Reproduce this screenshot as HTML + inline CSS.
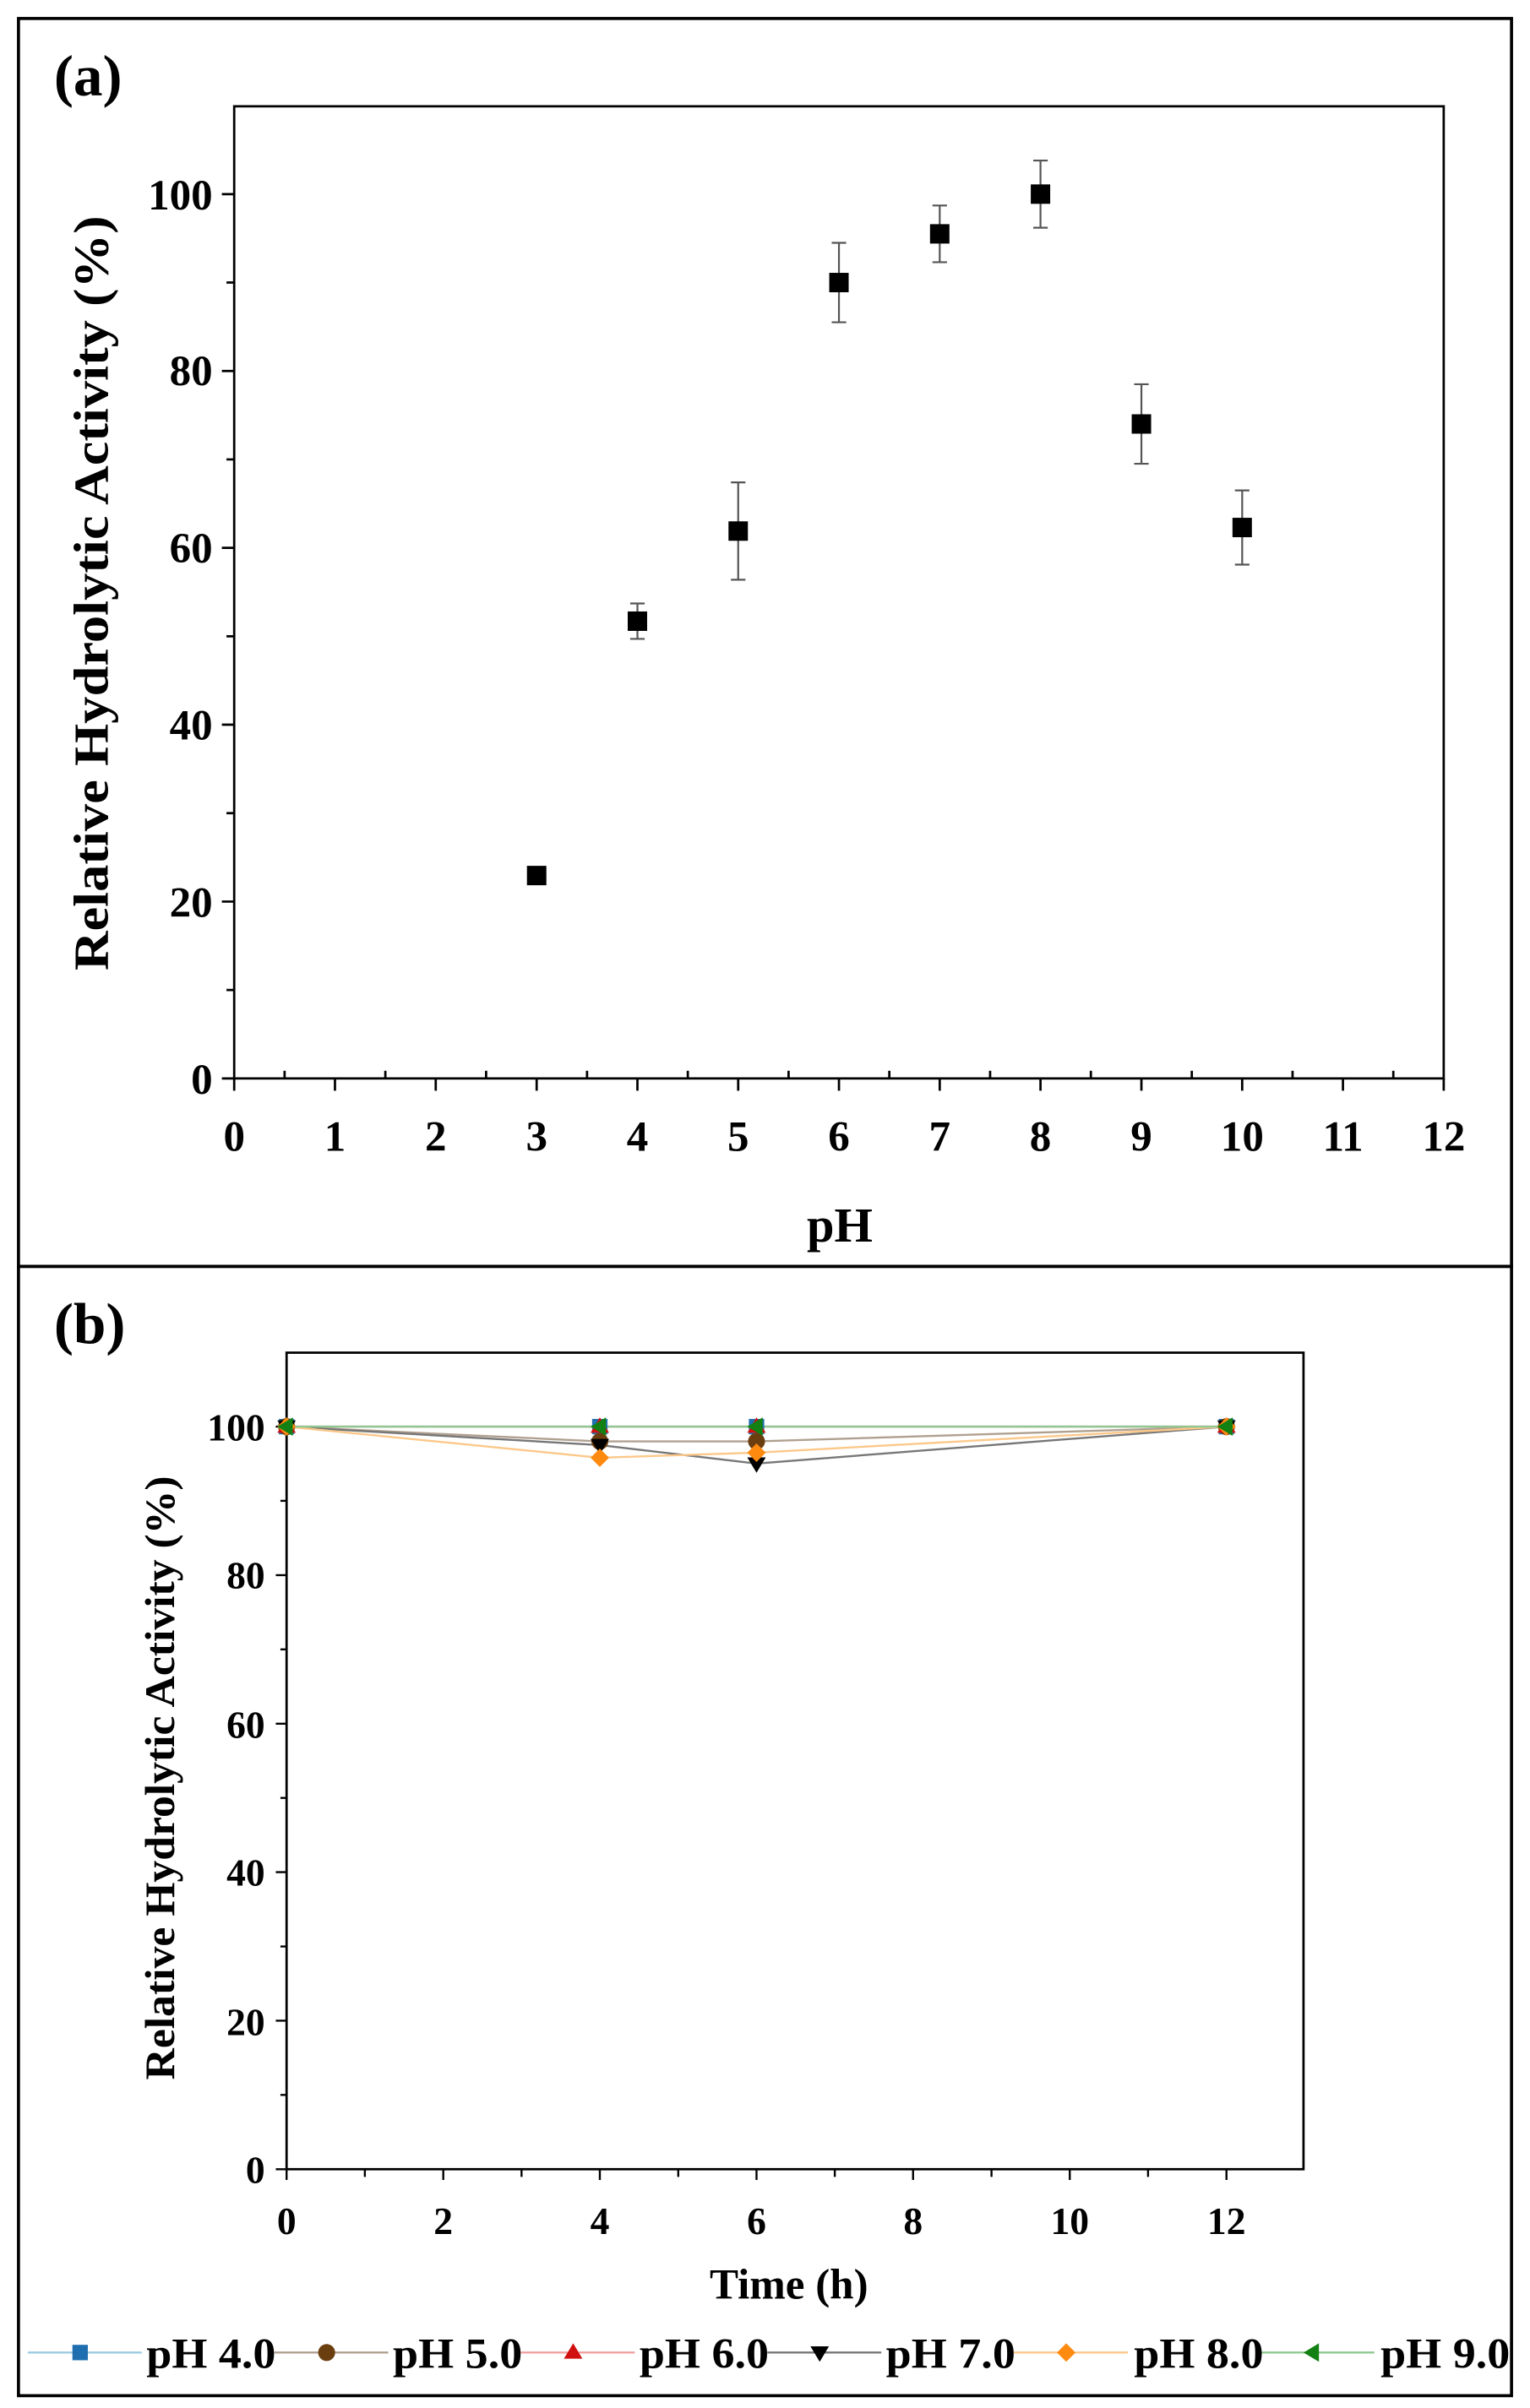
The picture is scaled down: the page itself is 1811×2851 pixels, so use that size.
<!DOCTYPE html>
<html><head><meta charset="utf-8"><style>html,body{margin:0;padding:0;background:#fff}svg{display:block}</style></head>
<body>
<svg width="1811" height="2851" viewBox="0 0 993 1563" preserveAspectRatio="none" xmlns="http://www.w3.org/2000/svg" font-family="'Liberation Serif',serif" font-weight="bold">
<rect x="12" y="12" width="969" height="810" fill="none" stroke="#000" stroke-width="2"/>
<rect x="12" y="822" width="969" height="733" fill="none" stroke="#000" stroke-width="2"/>
<text x="35" y="62" font-size="38">(a)</text>
<text x="35" y="872" font-size="38">(b)</text>
<!-- Panel a -->
<rect x="152" y="69" width="785" height="631" fill="none" stroke="#000" stroke-width="1.5"/>
<g stroke="#000" stroke-width="1.5">
<path d="M152,700v8M217.4,700v8M282.8,700v8M348.3,700v8M413.7,700v8M479.1,700v8M544.5,700v8M609.9,700v8M675.3,700v8M740.8,700v8M806.2,700v8M871.6,700v8M937,700v8"/>
<path d="M184.7,700v-5M250.1,700v-5M315.5,700v-5M381,700v-5M446.4,700v-5M511.8,700v-5M577.2,700v-5M642.6,700v-5M708,700v-5M773.5,700v-5M838.9,700v-5M904.3,700v-5"/>
<path d="M152,700h-8M152,585.2h-8M152,470.4h-8M152,355.6h-8M152,240.8h-8M152,126h-8"/>
<path d="M152,642.6h-5M152,527.8h-5M152,413h-5M152,298.2h-5M152,183.4h-5"/>
</g>
<g font-size="28" text-anchor="middle">
<text x="152" y="747">0</text><text x="217.4" y="747">1</text><text x="282.8" y="747">2</text><text x="348.3" y="747">3</text><text x="413.7" y="747">4</text><text x="479.1" y="747">5</text><text x="544.5" y="747">6</text><text x="609.9" y="747">7</text><text x="675.3" y="747">8</text><text x="740.8" y="747">9</text><text x="806.2" y="747">10</text><text x="871.6" y="747">11</text><text x="937" y="747">12</text>
</g>
<g font-size="28" text-anchor="end">
<text x="138" y="710">0</text><text x="138" y="595">20</text><text x="138" y="480">40</text><text x="138" y="365">60</text><text x="138" y="250">80</text><text x="138" y="136">100</text>
</g>
<text x="545" y="806" font-size="32" text-anchor="middle">pH</text>
<text transform="translate(70,385) rotate(-90)" font-size="32" text-anchor="middle" textLength="490" lengthAdjust="spacingAndGlyphs">Relative Hydrolytic Activity (%)</text>
<g stroke="#555" stroke-width="1.2">
<path d="M413.7,391.7v23M409,391.7h9.4M409,414.7h9.4"/>
<path d="M479.1,313.1v63.2M474.4,313.1h9.4M474.4,376.3h9.4"/>
<path d="M544.5,157.6v51.6M539.8,157.6h9.4M539.8,209.2h9.4"/>
<path d="M609.9,133.4v36.8M605.2,133.4h9.4M605.2,170.2h9.4"/>
<path d="M675.3,104.2v43.6M670.6,104.2h9.4M670.6,147.8h9.4"/>
<path d="M740.8,249.4v51.6M736.1,249.4h9.4M736.1,301h9.4"/>
<path d="M806.2,318.3v48.2M801.5,318.3h9.4M801.5,366.5h9.4"/>
</g>
<g fill="#000">
<rect x="342" y="562" width="12.6" height="12.6"/>
<rect x="407.4" y="396.9" width="12.6" height="12.6"/>
<rect x="472.8" y="338.4" width="12.6" height="12.6"/>
<rect x="538.2" y="177.1" width="12.6" height="12.6"/>
<rect x="603.6" y="145.5" width="12.6" height="12.6"/>
<rect x="669" y="119.7" width="12.6" height="12.6"/>
<rect x="734.5" y="268.9" width="12.6" height="12.6"/>
<rect x="799.9" y="336.1" width="12.6" height="12.6"/>
</g>
<!-- Panel b -->
<rect x="186" y="878" width="660" height="530" fill="none" stroke="#000" stroke-width="1.5"/>
<g stroke="#000" stroke-width="1.3">
<path d="M186,1408v7M287.7,1408v7M389.3,1408v7M491,1408v7M592.6,1408v7M694.3,1408v7M796,1408v7"/>
<path d="M236.8,1408v5M338.5,1408v5M440.2,1408v5M541.8,1408v5M643.5,1408v5M745.1,1408v5"/>
<path d="M186,1408h-7M186,1311.6h-7M186,1215.2h-7M186,1118.8h-7M186,1022.4h-7M186,926h-7"/>
<path d="M186,1359.8h-4M186,1263.4h-4M186,1167h-4M186,1070.6h-4M186,974.2h-4"/>
</g>
<g font-size="25" text-anchor="middle">
<text x="186" y="1450">0</text><text x="287.7" y="1450">2</text><text x="389.3" y="1450">4</text><text x="491" y="1450">6</text><text x="592.6" y="1450">8</text><text x="694.3" y="1450">10</text><text x="796" y="1450">12</text>
</g>
<g font-size="25" text-anchor="end">
<text x="172" y="1417">0</text><text x="172" y="1321">20</text><text x="172" y="1224">40</text><text x="172" y="1128">60</text><text x="172" y="1031">80</text><text x="172" y="935">100</text>
</g>
<text x="512" y="1492" font-size="28" text-anchor="middle">Time (h)</text>
<text transform="translate(113,1154) rotate(-90)" font-size="27" text-anchor="middle" textLength="392" lengthAdjust="spacingAndGlyphs">Relative Hydrolytic Activity (%)</text>
<g fill="none" stroke-width="1.3">
<polyline points="186,926 389.3,926 491,926 796,926" stroke="#9ecae1"/>
<polyline points="186,926 389.3,935.6 491,935.6 796,926" stroke="#b0a090"/>
<polyline points="186,926 389.3,926 491,926 796,926" stroke="#f0a0a0"/>
<polyline points="186,926 389.3,938 491,950 796,926" stroke="#777"/>
<polyline points="186,926 389.3,946.2 491,942.9 796,926" stroke="#fcc88a"/>
<polyline points="186,926 389.3,926 491,926 796,926" stroke="#90c890"/>
</g>
<g>
<g fill="#1f6fb0"><rect x="181" y="921" width="10" height="10"/><rect x="384.3" y="921" width="10" height="10"/><rect x="486" y="921" width="10" height="10"/><rect x="791" y="921" width="10" height="10"/></g>
<g fill="#6b3e10"><circle cx="186" cy="926" r="5.5"/><circle cx="389.3" cy="935.6" r="5.5"/><circle cx="491" cy="935.6" r="5.5"/><circle cx="796" cy="926" r="5.5"/></g>
<g fill="#d01010"><path d="M186,920l6,10h-12z"/><path d="M389.3,920l6,10h-12z"/><path d="M491,920l6,10h-12z"/><path d="M796,920l6,10h-12z"/></g>
<g fill="#000"><path d="M186,932l6,-10h-12z"/><path d="M389.3,944l6,-10h-12z"/><path d="M491,956l6,-10h-12z"/><path d="M796,932l6,-10h-12z"/></g>
<g fill="#ff8a10"><path d="M186,920l6,6l-6,6l-6,-6z"/><path d="M389.3,940.2l6,6l-6,6l-6,-6z"/><path d="M491,936.9l6,6l-6,6l-6,-6z"/><path d="M796,920l6,6l-6,6l-6,-6z"/></g>
<g fill="#128012"><path d="M180,926l10,-6v12z"/><path d="M383.3,926l10,-6v12z"/><path d="M485,926l10,-6v12z"/><path d="M790,926l10,-6v12z"/></g>
</g>
<!-- Legend -->
<g stroke-width="1.3">
<line x1="18" y1="1527" x2="92" y2="1527" stroke="#9ecae1"/>
<line x1="178" y1="1527" x2="252" y2="1527" stroke="#b0a090"/>
<line x1="338" y1="1527" x2="412" y2="1527" stroke="#f0a0a0"/>
<line x1="498" y1="1527" x2="572" y2="1527" stroke="#777"/>
<line x1="658" y1="1527" x2="732" y2="1527" stroke="#fcc88a"/>
<line x1="818" y1="1527" x2="892" y2="1527" stroke="#90c890"/>
</g>
<rect x="47" y="1522" width="10" height="10" fill="#1f6fb0"/>
<circle cx="212" cy="1527" r="5.5" fill="#6b3e10"/>
<path d="M372,1521l6,10h-12z" fill="#d01010"/>
<path d="M532,1533l6,-10h-12z" fill="#000"/>
<path d="M692,1521l6,6l-6,6l-6,-6z" fill="#ff8a10"/>
<path d="M846,1527l10,-6v12z" fill="#128012"/>
<g font-size="28">
<text x="95" y="1537" textLength="84" lengthAdjust="spacingAndGlyphs">pH 4.0</text>
<text x="255" y="1537" textLength="84" lengthAdjust="spacingAndGlyphs">pH 5.0</text>
<text x="415" y="1537" textLength="84" lengthAdjust="spacingAndGlyphs">pH 6.0</text>
<text x="575" y="1537" textLength="84" lengthAdjust="spacingAndGlyphs">pH 7.0</text>
<text x="736" y="1537" textLength="84" lengthAdjust="spacingAndGlyphs">pH 8.0</text>
<text x="896" y="1537" textLength="84" lengthAdjust="spacingAndGlyphs">pH 9.0</text>
</g>
</svg>
</body></html>
